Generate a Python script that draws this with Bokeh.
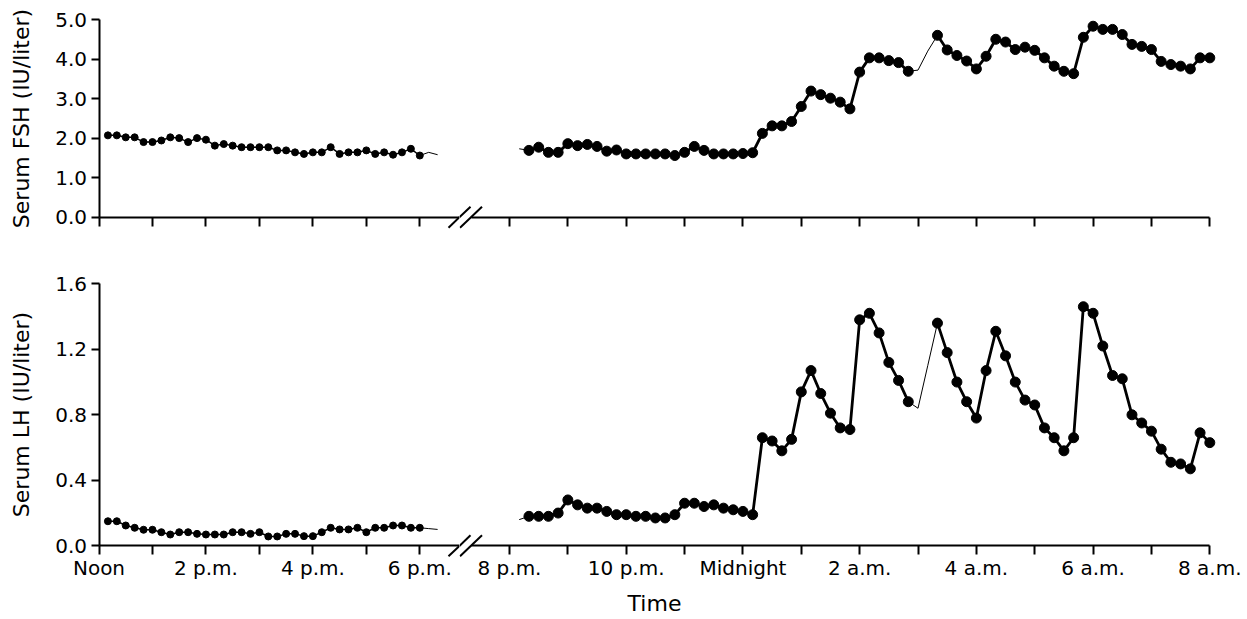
from bokeh.plotting import figure
from bokeh.layouts import column, row
from bokeh.models import Range1d, FixedTicker, Arrow, Label, PrintfTickFormatter
from bokeh.embed import file_html
from bokeh.resources import INLINE

NaN = float("nan")

# ---------------- data ----------------
# sampling times in minutes after noon (blood drawn every 10 min)
t_day_min = list(range(10, 361, 10))      # 12:10 p.m. .. 6:00 p.m.
t_night_min = list(range(500, 1201, 10))  # 8:20 p.m. .. 8:00 a.m.

fsh_day = [2.07, 2.07, 2.02, 2.02, 1.90, 1.90, 1.94, 2.02, 2.00, 1.90,
           2.00, 1.96, 1.81, 1.85, 1.81, 1.77, 1.77, 1.77, 1.77, 1.69,
           1.69, 1.64, 1.60, 1.64, 1.64, 1.77, 1.60, 1.64, 1.64, 1.69,
           1.60, 1.64, 1.58, 1.64, 1.73, 1.56]
lh_day = [0.150, 0.150, 0.124, 0.110, 0.098, 0.098, 0.083, 0.069, 0.083, 0.083,
          0.073, 0.069, 0.069, 0.069, 0.083, 0.083, 0.073, 0.083, 0.057, 0.057,
          0.073, 0.073, 0.059, 0.059, 0.083, 0.110, 0.100, 0.100, 0.110, 0.083,
          0.110, 0.110, 0.124, 0.124, 0.110, 0.110]

fsh_night = [1.69, 1.77, 1.64, 1.64, 1.86, 1.81, 1.84, 1.79, 1.67, 1.70,
             1.60, 1.60, 1.60, 1.60, 1.60, 1.56, 1.64, 1.79, 1.69, 1.60,
             1.60, 1.60,
             1.61, 1.63, 2.12, 2.31, 2.31, 2.42, 2.80, 3.19, 3.10, 3.01,
             2.91, 2.74, 3.67, 4.03, 4.03, 3.96, 3.91, 3.69, NaN, NaN,
             4.60, 4.23, 4.09, 3.95, 3.75, 4.07, 4.50, 4.43, 4.24, 4.30,
             4.22, 4.03, 3.82, 3.69, 3.63, 4.55, 4.83, 4.75, 4.75, 4.62,
             4.37, 4.32, 4.24, 3.94, 3.86, 3.82, 3.75, 4.03, 4.03]
lh_night = [0.18, 0.18, 0.18, 0.20, 0.28, 0.25, 0.23, 0.23, 0.21, 0.19,
            0.19, 0.18, 0.18, 0.17, 0.17, 0.19, 0.26, 0.26, 0.24, 0.25,
            0.23, 0.22,
            0.21, 0.19, 0.66, 0.64, 0.58, 0.65, 0.94, 1.07, 0.93, 0.81,
            0.72, 0.71, 1.38, 1.42, 1.30, 1.12, 1.01, 0.88, NaN, NaN,
            1.36, 1.18, 1.00, 0.88, 0.78, 1.07, 1.31, 1.16, 1.00, 0.89,
            0.86, 0.72, 0.66, 0.58, 0.66, 1.46, 1.42, 1.22, 1.04, 1.02,
            0.80, 0.75, 0.70, 0.59, 0.51, 0.50, 0.47, 0.69, 0.63]

# stretches without a plotted sample (thin connecting line)
t_day_tail = [360, 370, 380]
fsh_day_tail = [1.56, 1.64, 1.58]
lh_day_tail = [0.110, 0.105, 0.100]
t_night_head = [490, 500]
fsh_night_head = [1.73, 1.69]
lh_night_head = [0.16, 0.18]
t_gap = [890, 900, 910, 920]
fsh_gap = [3.69, 3.72, 4.20, 4.60]
lh_gap = [0.88, 0.84, 1.10, 1.36]

tick_hours_day = [0, 1, 2, 3, 4, 5, 6]
tick_hours_night = [8, 9, 10, 11, 12, 13, 14, 15, 16, 17, 18, 19, 20]
tick_labels = {0: "Noon", 2: "2 p.m.", 4: "4 p.m.", 6: "6 p.m.", 8: "8 p.m.",
               10: "10 p.m.", 12: "Midnight", 14: "2 a.m.", 16: "4 a.m.",
               18: "6 a.m.", 20: "8 a.m."}
fsh_ticks = [0, 1, 2, 3, 4, 5]
lh_ticks = [0.0, 0.4, 0.8, 1.2, 1.6]

# ---------------- page geometry (pixels) ----------------
FONT = "DejaVu Sans"
W_TOTAL, H_TOTAL = 1247, 619
SPLIT_X = 459           # canvas boundary between afternoon and night panels
SPLIT_Y = 258           # canvas boundary between FSH and LH panels
# pixel anchors of the axes: (pixel, value) pairs
X_DAY_ANCH = ((98.5, 0.0), (419.3, 6.0))
X_NIGHT_ANCH = ((509.0, 8.0), (1209.3, 20.0))
Y_TOP_ANCH = ((216.7, 0.0), (19.0, 5.0))
Y_BOT_ANCH = ((545.3, 0.0), (283.3, 1.6))
DAY_AXIS_END_PX = 459.0
NIGHT_AXIS_START_PX = 470.5


def to_val(anch, px):
    (p0, v0), (p1, v1) = anch
    return v0 + (px - p0) * (v1 - v0) / (p1 - p0)


def x_range(anch, lo, hi):
    return Range1d(to_val(anch, lo), to_val(anch, hi))


def y_range(anch, top, bottom):
    return Range1d(to_val(anch, bottom), to_val(anch, top))


PARTS = {
    "day": dict(anch=X_DAY_ANCH, lo=0, hi=SPLIT_X, ticks=tick_hours_day,
                bounds=(0.0, to_val(X_DAY_ANCH, DAY_AXIS_END_PX))),
    "night": dict(anch=X_NIGHT_ANCH, lo=SPLIT_X, hi=W_TOTAL, ticks=tick_hours_night,
                  bounds=(to_val(X_NIGHT_ANCH, NIGHT_AXIS_START_PX), 20.0)),
}
ROWS = {
    "top": dict(anch=Y_TOP_ANCH, top=0, bottom=SPLIT_Y, ticks=fsh_ticks, bounds=(0, 5),
                ylabel="Serum FSH (IU/liter)", show_labels=False),
    "bot": dict(anch=Y_BOT_ANCH, top=SPLIT_Y, bottom=H_TOTAL, ticks=lh_ticks, bounds=(0, 1.6),
                ylabel="Serum LH (IU/liter)", show_labels=True),
}


def hours(mins):
    return [m / 60 for m in mins]


def make(part, key):
    pc, rc = PARTS[part], ROWS[key]
    p = figure(width=pc["hi"] - pc["lo"], height=rc["bottom"] - rc["top"],
               x_range=x_range(pc["anch"], pc["lo"], pc["hi"]),
               y_range=y_range(rc["anch"], rc["top"], rc["bottom"]),
               output_backend="svg", toolbar_location=None, min_border=0,
               y_axis_location="left" if part == "day" else None)
    p.title.visible = False
    p.outline_line_color = None
    p.grid.visible = False
    p.background_fill_color = "white"
    p.border_fill_color = "white"

    ax = p.xaxis[0]
    ax.fixed_location = 0
    ax.bounds = pc["bounds"]
    ax.ticker = FixedTicker(ticks=pc["ticks"], minor_ticks=[])
    ax.major_label_overrides = {t: (tick_labels.get(t, "") if rc["show_labels"] else "")
                                for t in pc["ticks"]}
    ax.axis_line_width = 2
    ax.axis_line_color = "black"
    ax.major_tick_line_width = 2
    ax.major_tick_line_color = "black"
    ax.major_tick_out = 9
    ax.major_tick_in = 0
    ax.minor_tick_line_color = None
    ax.major_label_text_font = FONT
    ax.major_label_text_font_size = "20px"
    ax.major_label_text_color = "black"
    ax.major_label_standoff = 1

    if part == "day":
        ay = p.yaxis[0]
        ay.fixed_location = 0
        ay.bounds = rc["bounds"]
        ay.ticker = FixedTicker(ticks=rc["ticks"], minor_ticks=[])
        ay.formatter = PrintfTickFormatter(format="%.1f")
        ay.axis_line_width = 2
        ay.axis_line_color = "black"
        ay.major_tick_line_width = 2
        ay.major_tick_line_color = "black"
        ay.major_tick_out = 8
        ay.major_tick_in = 0
        ay.minor_tick_line_color = None
        ay.major_label_text_font = FONT
        ay.major_label_text_font_size = "20px"
        ay.major_label_text_color = "black"
        ay.major_label_standoff = 4
        ay.axis_label = rc["ylabel"]
        ay.axis_label_text_font = FONT
        ay.axis_label_text_font_size = "22px"
        ay.axis_label_text_font_style = "normal"
        ay.axis_label_text_color = "black"
        ay.axis_label_standoff = 19
    return p


def slashes(p, part, key):
    """Axis-break marks (two short diagonal strokes across the time axis)."""
    xa, ya = PARTS[part]["anch"], ROWS[key]["anch"]
    axis_px = ya[0][0]
    for cx in (DAY_AXIS_END_PX, NIGHT_AXIS_START_PX):
        p.add_layout(Arrow(start=None, end=None,
                           x_start=to_val(xa, cx - 11), y_start=to_val(ya, axis_px + 10.5),
                           x_end=to_val(xa, cx + 11), y_end=to_val(ya, axis_px - 10.5),
                           line_width=2, line_color="black"))


figs = {(part, key): make(part, key) for key in ("top", "bot") for part in ("day", "night")}

series = {
    "top": dict(day=fsh_day, night=fsh_night, dtail=fsh_day_tail, nhead=fsh_night_head, gap=fsh_gap),
    "bot": dict(day=lh_day, night=lh_night, dtail=lh_day_tail, nhead=lh_night_head, gap=lh_gap),
}

for key in ("top", "bot"):
    s = series[key]
    pd_ = figs[("day", key)]
    pn = figs[("night", key)]
    # afternoon
    pd_.line(hours(t_day_tail), s["dtail"], line_width=1, line_color="black")
    pd_.line(hours(t_day_min), s["day"], line_width=1.5, line_color="black")
    pd_.scatter(hours(t_day_min), s["day"], size=7, color="black")
    # night
    pn.line(hours(t_night_head), s["nhead"], line_width=1, line_color="black")
    pn.line(hours(t_gap), s["gap"], line_width=1, line_color="black")
    pn.line(hours(t_night_min), s["night"], line_width=2.8, line_color="black")
    pn.scatter(hours(t_night_min), s["night"], size=10, color="black")
    slashes(pd_, "day", key)
    slashes(pn, "night", key)

# x-axis title, centred under the whole time axis
pb = figs[("night", "bot")]
pb.add_layout(Label(x=to_val(X_NIGHT_ANCH, 654), y=to_val(Y_BOT_ANCH, 603),
                    text="Time", text_align="center", text_baseline="middle",
                    text_font=FONT, text_font_size="22px", text_color="black"))

layout = column(row(figs[("day", "top")], figs[("night", "top")]),
                row(figs[("day", "bot")], figs[("night", "bot")]))

open("out.html", "w").write(file_html(layout, INLINE))
